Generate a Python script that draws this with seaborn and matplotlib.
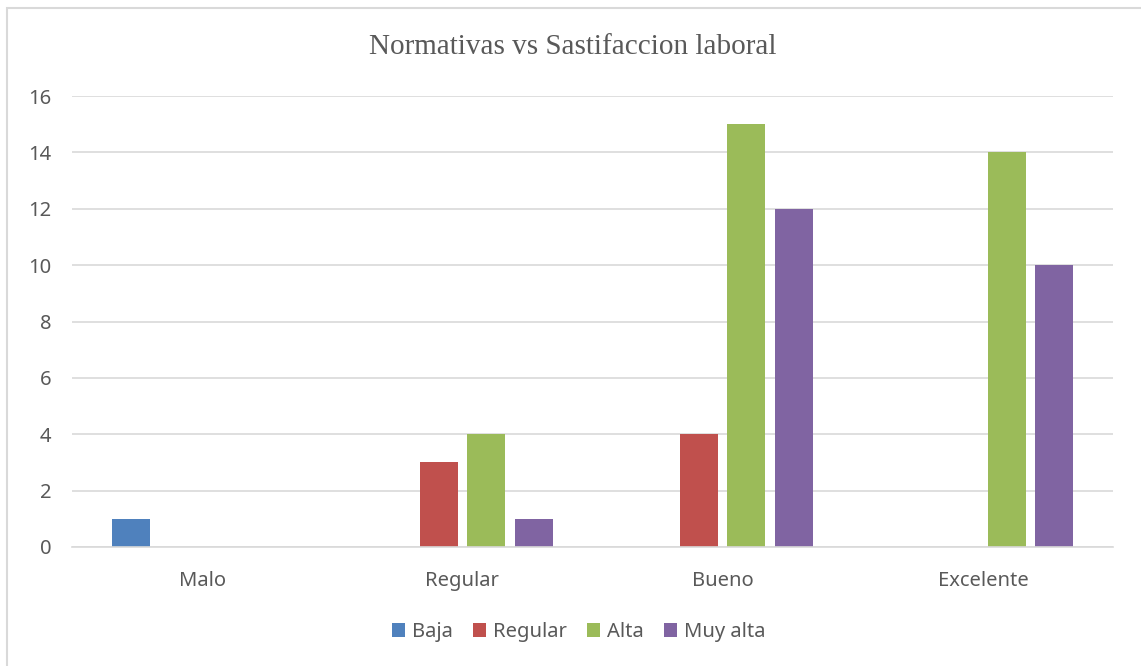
import matplotlib
matplotlib.use("Agg")
import matplotlib.pyplot as plt
import matplotlib.patches as mpatches
import seaborn as sns
import pandas as pd

categories = ["Malo", "Regular", "Bueno", "Excelente"]
series = ["Baja", "Regular", "Alta", "Muy alta"]
baja = [1, 0, 0, 0]
regular = [0, 3, 4, 0]
alta = [0, 4, 15, 14]
muy_alta = [0, 1, 12, 10]
colors = ["#4F81BD", "#C0504D", "#9BBB59", "#8064A2"]
y_ticks = [0, 2, 4, 6, 8, 10, 12, 14, 16]
title = "Normativas vs Sastifaccion laboral"

rows = []
for s, vals in zip(series, [baja, regular, alta, muy_alta]):
    for c, v in zip(categories, vals):
        rows.append({"cat": c, "serie": s, "valor": v})
df = pd.DataFrame(rows)

sns.set_theme(style="white")
plt.rcParams["font.family"] = ["Noto Sans", "DejaVu Sans"]

W, H = 1141, 666
fig = plt.figure(figsize=(W / 100, H / 100), dpi=100)
ax = fig.add_axes([72 / W, 1 - 547 / H, (1113 - 72) / W, (547 - 96) / H])

sns.barplot(data=df, x="cat", y="valor", hue="serie", order=categories,
            hue_order=series, palette=colors, width=0.73, gap=0.2,
            linewidth=0, saturation=1, ax=ax, legend=True)

ax.set_ylim(0, 16)
ax.set_xlim(-0.5, 3.5)
ax.set_yticks(y_ticks)
ax.set_yticklabels([str(t) for t in y_ticks])
ax.yaxis.grid(True, color="#d9d9d9", linewidth=1.2)
ax.set_axisbelow(True)
for sp in ["top", "right", "left"]:
    ax.spines[sp].set_visible(False)
ax.spines["bottom"].set_color("#d9d9d9")
ax.spines["bottom"].set_linewidth(1.2)
ax.tick_params(axis="both", length=0, labelsize=14.5, labelcolor="#595959")
ax.tick_params(axis="y", pad=15)
ax.tick_params(axis="x", pad=17)
ax.set_xlabel("")
ax.set_ylabel("")

leg = ax.legend(loc="center", bbox_to_anchor=(579 / W, 1 - 632 / H),
                bbox_transform=fig.transFigure, ncol=4, frameon=False,
                fontsize=14.5, handlelength=0.65, handleheight=0.65,
                handletextpad=0.35, columnspacing=1.0)
for t in leg.get_texts():
    t.set_color("#595959")

fig.text(573 / W, 1 - 47 / H, title, ha="center", va="center",
         fontsize=21, color="#595959", family=["Liberation Serif", "DejaVu Serif"])

border = mpatches.Rectangle((7 / W, -0.1), 1.2, 1 - 8 / H + 0.1,
                            transform=fig.transFigure, fill=False,
                            edgecolor="#d9d9d9", linewidth=1.5)
fig.patches.append(border)

fig.savefig("out.png", dpi=100)
